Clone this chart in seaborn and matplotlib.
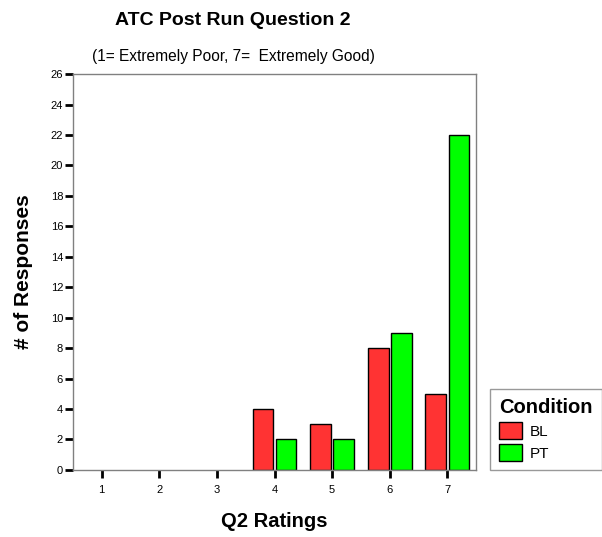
import matplotlib
matplotlib.use("Agg")
import matplotlib.pyplot as plt
import seaborn as sns
import pandas as pd

ratings = ["1", "2", "3", "4", "5", "6", "7"]
data_ratings = ["4", "5", "6", "7"]
bl_counts = [4, 3, 8, 5]
pt_counts = [2, 2, 9, 22]
conditions = ["BL", "PT"]
yticks = list(range(0, 27, 2))

df = pd.DataFrame({
    "rating": data_ratings * 2,
    "count": bl_counts + pt_counts,
    "Condition": ["BL"] * len(data_ratings) + ["PT"] * len(data_ratings),
})

sns.set_style("white")
plt.rcParams["font.family"] = ["Liberation Sans", "DejaVu Sans"]
plt.rcParams["text.color"] = "black"
plt.rcParams["axes.labelcolor"] = "black"
plt.rcParams["xtick.color"] = "black"
plt.rcParams["ytick.color"] = "black"

fig = plt.figure(figsize=(6.02, 5.37), dpi=100)
ax = fig.add_axes([0.121, 0.125, 0.670, 0.737])

sns.barplot(data=df, x="rating", y="count", hue="Condition", order=ratings,
            hue_order=conditions, palette={"BL": "#ff3333", "PT": "#00ff00"},
            saturation=1, width=0.8, gap=0.1, edgecolor="black", linewidth=1,
            ax=ax, legend=True)

ax.set_ylim(0, 26)
ax.set_yticks(yticks)
ax.set_yticklabels([str(t) for t in yticks], fontsize=8)
ax.tick_params(axis="y", length=6, width=2, color="black", direction="out", left=True, pad=1)
ax.tick_params(axis="x", length=6, width=2, color="black", direction="out", bottom=True, labelsize=8, pad=5)
for s in ax.spines.values():
    s.set_color("#808080")
    s.set_linewidth(1)

ax.set_xlabel("Q2 Ratings", fontsize=14.5, fontweight="bold", labelpad=12)
ax.set_ylabel("# of Responses", fontsize=15, fontweight="bold", labelpad=13)

fig.text(0.386, 0.962, "ATC Post Run Question 2", ha="center", va="center",
         fontsize=14, fontweight="bold")
fig.text(0.388, 0.895, "(1= Extremely Poor, 7=  Extremely Good)", ha="center",
         va="center", fontsize=11.2)

leg = ax.legend(title="Condition", loc="lower left", bbox_to_anchor=(1.035, 0.0),
                frameon=True, fancybox=False, fontsize=11, title_fontsize=14.5,
                handlelength=1.45, handleheight=1.3, handletextpad=0.5,
                borderaxespad=0, labelspacing=0.35, alignment="left",
                borderpad=0.6)
leg.get_title().set_fontweight("bold")
leg.get_frame().set_edgecolor("#808080")
leg.get_frame().set_linewidth(1)

fig.savefig("out.png", dpi=100)
